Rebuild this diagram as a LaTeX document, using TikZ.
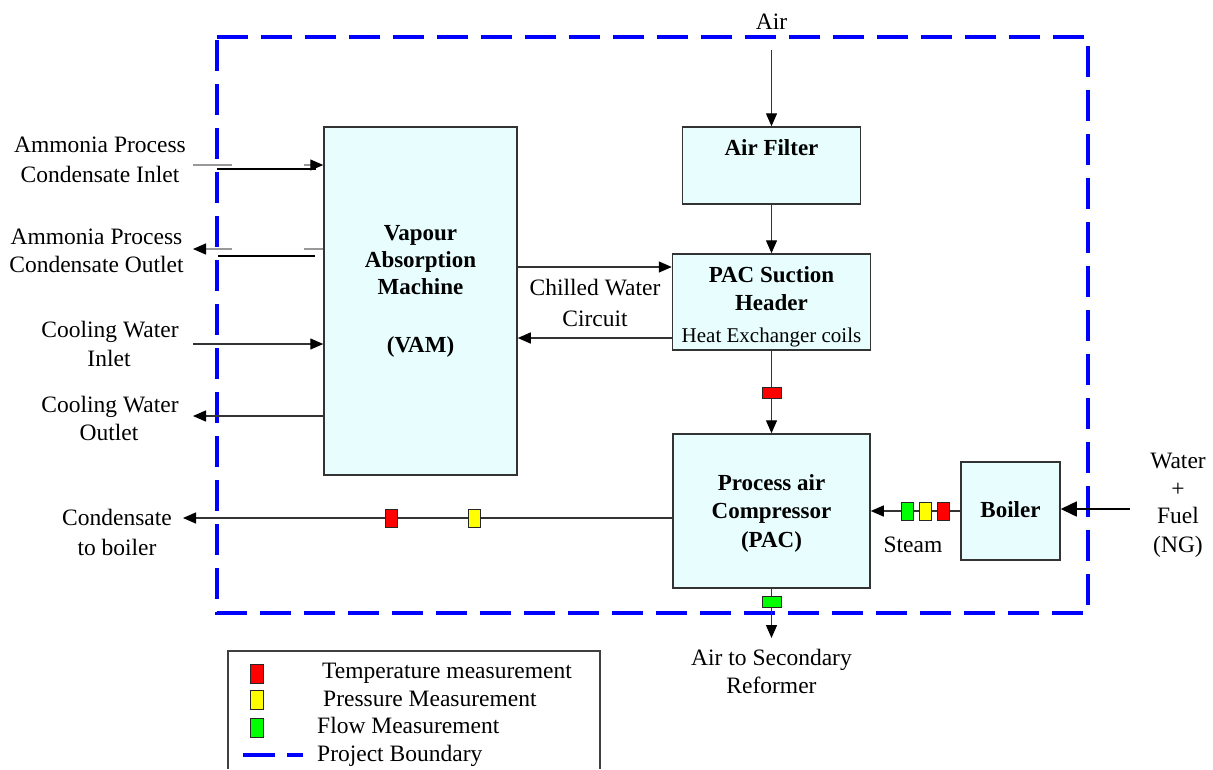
\documentclass[tikz,border=0pt]{standalone}
\usepackage{fontspec}
\setmainfont{Liberation Serif}
\usetikzlibrary{arrows.meta}
\definecolor{boxfill}{HTML}{E8FEFE}
\definecolor{boxline}{HTML}{333333}
\definecolor{lnc}{HTML}{333333}
\definecolor{ghost}{HTML}{999999}
\definecolor{mred}{HTML}{FF0000}
\definecolor{myel}{HTML}{FFFF00}
\definecolor{mgrn}{HTML}{00FF00}
\definecolor{bnd}{HTML}{0000FF}
\tikzset{
  box/.style={draw=boxline, fill=boxfill, line width=1.5pt, inner sep=0pt},
  txt/.style={anchor=base, inner sep=0pt, font=\fontsize{23.5}{28}\selectfont},
  btxt/.style={anchor=base, inner sep=0pt, font=\fontsize{23}{28}\selectfont\bfseries},
  stxt/.style={anchor=base, inner sep=0pt, font=\fontsize{21}{26}\selectfont},
  ltxt/.style={anchor=base west, inner sep=0pt, font=\fontsize{23.5}{28}\selectfont},
  tip/.style={-{Triangle[length=13pt,width=11pt,color=black]}},
  flow/.style={draw=lnc, line width=1.4pt, tip},
  bigflow/.style={draw=black, line width=1.6pt, -{Triangle[length=16pt,width=15pt]}},
  plain/.style={draw=black, line width=1.3pt},
  ghostln/.style={draw=ghost, line width=1.3pt},
  mkh/.style={draw=black!85, line width=1pt, minimum width=19pt, minimum height=11pt, inner sep=0pt},
  mkv/.style={draw=black!85, line width=1pt, minimum width=12pt, minimum height=18pt, inner sep=0pt},
  boundary/.style={draw=bnd, line width=4pt, dash pattern=on 31pt off 13pt},
}
\begin{document}
\begin{tikzpicture}[x=1pt,y=-1pt]
\useasboundingbox (0,0) rectangle (1213,769);

% project boundary
\draw[boundary] (217,37) -- (1088,37) -- (1088,613) -- (217,613) -- cycle;

% boxes
\node[box, minimum width=193pt, minimum height=348pt] (VAM) at (420.5,301) {};
\node[box, minimum width=178pt, minimum height=77pt] (AF) at (771.5,165.5) {};
\node[box, minimum width=198pt, minimum height=96pt] (PACS) at (771.5,302) {};
\node[box, minimum width=197pt, minimum height=154pt] (PAC) at (771.5,511) {};
\node[box, minimum width=99pt, minimum height=98pt] (BOIL) at (1010.5,511) {};

% box texts
\node[btxt] (vam1) at (420.5,240) {Vapour};
\node[btxt] (vam2) at (420.5,267) {Absorption};
\node[btxt] (vam3) at (420.5,294) {Machine};
\node[btxt] (vam4) at (420.5,352) {(VAM)};
\node[btxt] (af1) at (771.5,155) {Air Filter};
\node[btxt] (pacs1) at (771.5,282) {PAC Suction};
\node[btxt] (pacs2) at (771.5,310) {Header};
\node[stxt] (pacs3) at (771.5,342) {Heat Exchanger coils};
\node[btxt] (pac1) at (771.5,490) {Process air};
\node[btxt] (pac2) at (771.5,518) {Compressor};
\node[btxt] (pac3) at (771.5,547) {(PAC)};
\node[btxt] (boil1) at (1010.5,517) {Boiler};

% free ends
\coordinate (airtop) at (771.5,50);
\coordinate (reform) at (771.5,638);
\coordinate (condend) at (183,518);
\coordinate (wf) at (1130,509);
\coordinate (cwup) at (600,267);
\coordinate (cwdn) at (600,338);
\coordinate (cwi) at (193,344);
\coordinate (cwo) at (193,416);
\coordinate (ai1) at (193,165);
\coordinate (ai2) at (232,165);
\coordinate (ai3) at (217,169);
\coordinate (ai4) at (316,169);
\coordinate (ai5) at (304,165);
\coordinate (ao1) at (232,249);
\coordinate (ao2) at (193,249);
\coordinate (ao3) at (218,256);
\coordinate (ao4) at (315,256);
\coordinate (ao5) at (304,249);

% connectors
\draw[flow] (airtop) -- (AF.north);
\draw[flow] (AF.south) -- (PACS.north);
\draw[flow] (PACS.south) -- (PAC.north);
\draw[flow] (PAC.south) -- (reform);
\draw[flow] (VAM.east |- cwup) -- (PACS.west |- cwup);
\draw[flow] (PACS.west |- cwdn) -- (VAM.east |- cwdn);
\draw[flow] (PAC.west |- condend) -- (condend);
\draw[flow] (BOIL.west) -- (PAC.east |- BOIL.west);
\draw[bigflow] (wf) -- (BOIL.east |- wf);
\draw[flow] (cwi) -- (VAM.west |- cwi);
\draw[flow] (VAM.west |- cwo) -- (cwo);
% ammonia inlet / outlet
\draw[ghostln] (ai1) -- (ai2);
\draw[plain] (ai3) -- (ai4);
\draw[ghostln, tip] (ai5) -- (VAM.west |- ai5);
\draw[ghostln, tip] (ao1) -- (ao2);
\draw[plain] (ao3) -- (ao4);
\draw[ghostln] (ao5) -- (VAM.west |- ao5);

% measurement markers
\node[mkh, fill=mred] (m1) at (771.5,392.5) {};
\node[mkh, fill=mgrn] (m2) at (771.5,602) {};
\node[mkv, fill=mred] (m3) at (391,518) {};
\node[mkv, fill=myel] (m4) at (474.5,518) {};
\node[mkv, fill=mgrn] (m5) at (907,511) {};
\node[mkv, fill=myel] (m6) at (925.5,511) {};
\node[mkv, fill=mred] (m7) at (943,511) {};

% outside labels
\node[txt] (air) at (771.5,29) {Air};
\node[txt] (l1a) at (100,152) {Ammonia Process};
\node[txt] (l1b) at (100,182) {Condensate Inlet};
\node[txt] (l2a) at (96.5,244) {Ammonia Process};
\node[txt] (l2b) at (96.5,272) {Condensate Outlet};
\node[txt] (l3a) at (110,337) {Cooling Water};
\node[txt] (l3b) at (109,366) {Inlet};
\node[txt] (l4a) at (110,412) {Cooling Water};
\node[txt] (l4b) at (109,440) {Outlet};
\node[txt] (cw1) at (595,295) {Chilled Water};
\node[txt] (cw2) at (595,326) {Circuit};
\node[txt] (cd1) at (117,525) {Condensate};
\node[txt] (cd2) at (117,555) {to boiler};
\node[txt] (st) at (913,552) {Steam};
\node[txt] (w1) at (1178,468) {Water};
\node[txt] (w2) at (1178,496) {+};
\node[txt] (w3) at (1178,523) {Fuel};
\node[txt] (w4) at (1178,552) {(NG)};
\node[txt] (r1) at (771.5,665) {Air to Secondary};
\node[txt] (r2) at (771.5,693) {Reformer};

% legend
\draw[draw=black!75, line width=1.5pt] (228,769) -- (228,651) -- (600,651) -- (600,769);
\node[mkv, minimum width=13pt, minimum height=19pt, fill=mred] (lg1) at (256.5,673.5) {};
\node[mkv, minimum width=13pt, minimum height=19pt, fill=myel] (lg2) at (256.5,699.5) {};
\node[mkv, minimum width=13pt, minimum height=19pt, fill=mgrn] (lg3) at (256.5,727.5) {};
\draw[draw=bnd, line width=4pt] (243,755) -- (275,755);
\draw[draw=bnd, line width=4pt] (287,755) -- (303,755);
\node[ltxt] (lt1) at (322,678) {Temperature measurement};
\node[ltxt] (lt2) at (323,706) {Pressure Measurement};
\node[ltxt] (lt3) at (317,733) {Flow Measurement};
\node[ltxt] (lt4) at (317,761) {Project Boundary};
\end{tikzpicture}
\end{document}
